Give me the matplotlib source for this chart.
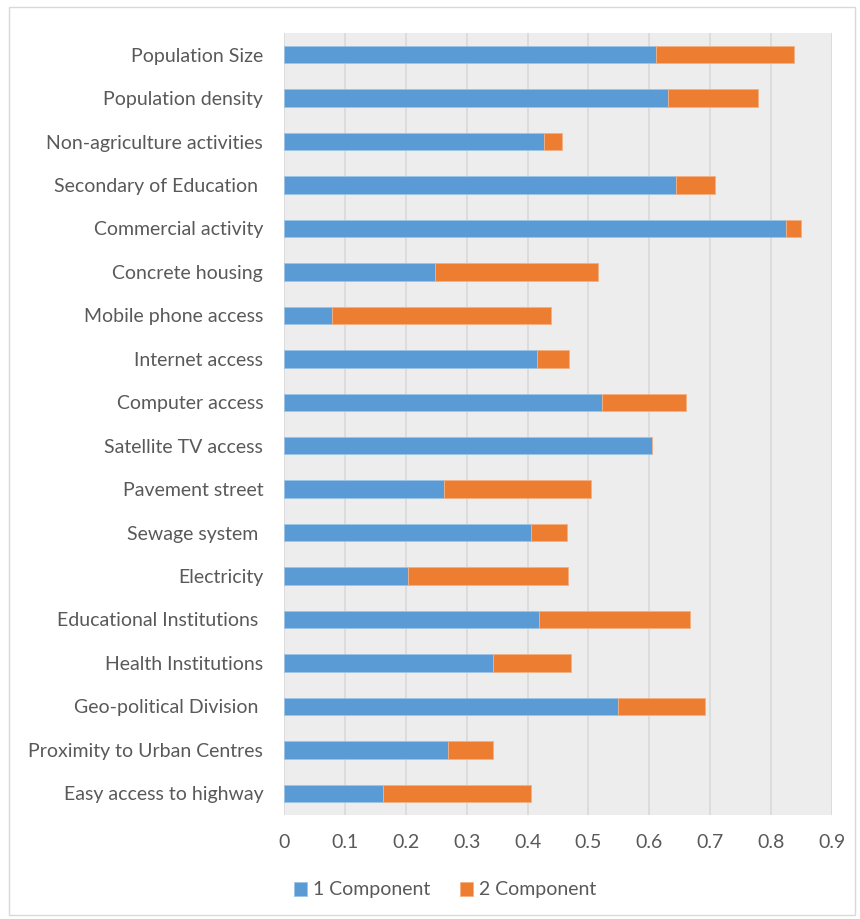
import numpy as np
import matplotlib
matplotlib.use("Agg")
import matplotlib.pyplot as plt
from matplotlib.patches import Rectangle

categories = [
    "Population Size", "Population density", "Non-agriculture activities",
    "Secondary of Education ", "Commercial activity", "Concrete housing",
    "Mobile phone access", "Internet access", "Computer access",
    "Satellite TV access", "Pavement street", "Sewage system ",
    "Electricity", "Educational Institutions ", "Health Institutions",
    "Geo-political Division ", "Proximity to Urban Centres", "Easy access to highway",
]
comp1 = [0.611, 0.630, 0.427, 0.644, 0.824, 0.248, 0.079, 0.415, 0.522,
         0.604, 0.263, 0.405, 0.204, 0.418, 0.344, 0.548, 0.270, 0.162]
totals = [0.837, 0.778, 0.456, 0.708, 0.849, 0.515, 0.438, 0.468, 0.660,
          0.605, 0.504, 0.465, 0.467, 0.667, 0.472, 0.692, 0.344, 0.406]
comp2 = [round(t - a, 3) for t, a in zip(totals, comp1)]
xticks = [0, 0.1, 0.2, 0.3, 0.4, 0.5, 0.6, 0.7, 0.8, 0.9]
series_names = ["1 Component", "2 Component"]

plt.rcParams["font.family"] = ["Lato", "DejaVu Sans"]
TXT = "#595959"

fig = plt.figure(figsize=(8.6, 9.19), dpi=100)
fig.patches.append(Rectangle((9 / 860, 1 - 915 / 919), 846 / 860, 908 / 919,
                             transform=fig.transFigure, fill=False,
                             edgecolor="#D9D9D9", lw=1))
ax = fig.add_axes([284 / 860, 1 - 815 / 919, 548 / 860, 782 / 919])
ax.set_facecolor("#EDEDED")

y = np.arange(len(categories))
b1 = ax.barh(y, comp1, height=0.4, color="#5B9BD5", edgecolor="#9DC3E6",
             lw=0.6, label=series_names[0], zorder=3)
b2 = ax.barh(y, comp2, left=comp1, height=0.4, color="#ED7D31",
             edgecolor="#F4B183", lw=0.6, label=series_names[1], zorder=3)

ax.set_xlim(0, 0.9)
ax.set_ylim(len(categories) - 0.5, -0.5)
ax.set_xticks(xticks)
ax.set_xticklabels([f"{v:g}" for v in xticks])
ax.set_yticks(y)
ax.set_yticklabels(categories)
ax.xaxis.grid(True, color="#D9D9D9", lw=1.2, zorder=0)
ax.set_axisbelow(True)
for s in ax.spines.values():
    s.set_visible(False)
ax.tick_params(axis="both", length=0, labelsize=14, colors=TXT)
ax.tick_params(axis="y", pad=15)
ax.tick_params(axis="x", pad=14)

fig.legend(handles=[b1, b2], loc="center", bbox_to_anchor=(445 / 860, 1 - 890 / 919),
           ncol=2, frameon=False, fontsize=14, labelcolor=TXT,
           handlelength=0.7, handleheight=0.7, handletextpad=0.3, columnspacing=1.5)

fig.savefig("out.png", dpi=100)
